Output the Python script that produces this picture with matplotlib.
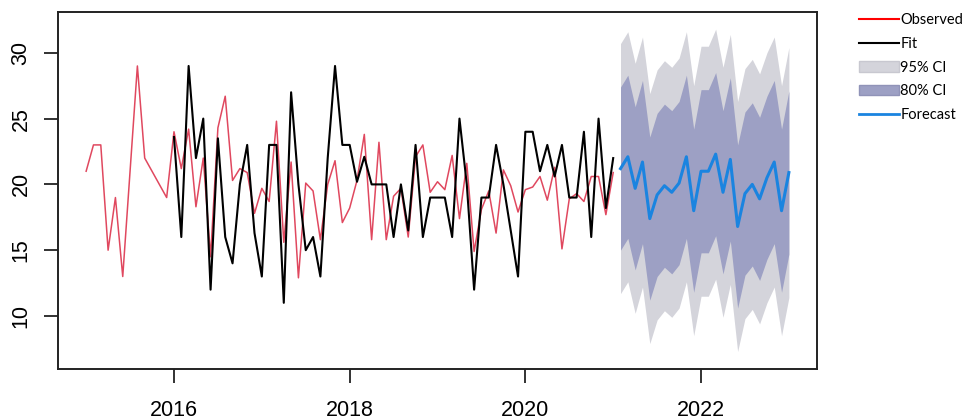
import numpy as np
import matplotlib.pyplot as plt
from matplotlib.lines import Line2D
from matplotlib.patches import Patch

# ================================
# 1) DADOS (mensais)
# ================================
obs_start = 2015.0      # jan/2015
fit_start = 2016.0      # jan/2016
fc_start = 2021 + 1/12  # fev/2021

observed = [
    21, 23, 23, 15, 19, 13, 21, 29, 22, 21, 20, 19,
    24, 21.2, 24.2, 18.3, 22, 14.5, 24.3, 26.7, 20.3, 21.2, 20.9, 17.8,
    19.7, 18.7, 24.8, 15.6, 21.7, 12.9, 20.1, 19.5, 15.8, 20.0, 21.8, 17.1,
    18.2, 20.3, 23.8, 15.8, 23.2, 15.8, 19.1, 19.7, 16.0, 22.1, 23.0, 19.4,
    20.2, 19.6, 22.2, 17.4, 21.6, 14.9, 18.1, 19.5, 16.3, 21.1, 19.9, 17.9,
    19.6, 19.8, 20.6, 18.8, 21.3, 15.1, 18.9, 19.3, 18.7, 20.6, 20.6, 17.7,
    20.9,
]

fitted = [
    23.6, 16, 29, 22, 25, 12, 23.5, 16, 14, 20, 23, 16.3,
    13, 23, 23, 11, 27, 20, 15, 16, 13, 22, 29, 23,
    23, 20.2, 22.1, 20, 20, 20, 16, 20, 16.5, 23, 16, 19,
    19, 19, 16, 25, 20, 12, 19, 19, 23, 20, 16.5, 13,
    24, 24, 21, 23, 20.6, 23, 19, 19, 24, 16, 25, 18.2,
    22,
]

forecast = [21.2, 22.1, 19.7, 21.7, 17.4, 19.2, 19.9, 19.4, 20.1, 22.1, 18.0, 21.0,
            21.0, 22.3, 19.4, 21.9, 16.8, 19.3, 20.0, 18.9, 20.5, 21.7, 18.0, 20.9]
hi80 = [27.4, 28.3, 25.9, 27.9, 23.6, 25.4, 26.1, 25.6, 26.3, 28.3, 24.2, 27.2,
        27.2, 28.5, 25.6, 28.1, 23.0, 25.5, 26.2, 25.1, 26.7, 27.9, 24.2, 27.1]
lo80 = [15.0, 15.9, 13.5, 15.5, 11.2, 13.0, 13.7, 13.2, 13.9, 15.9, 11.8, 14.8,
        14.8, 16.1, 13.2, 15.7, 10.6, 13.1, 13.8, 12.7, 14.3, 15.5, 11.8, 14.7]
hi95 = [30.7, 31.6, 29.2, 31.2, 26.9, 28.7, 29.4, 28.9, 29.6, 31.6, 27.5, 30.5,
        30.5, 31.8, 28.9, 31.4, 26.3, 28.8, 29.5, 28.4, 30.0, 31.2, 27.5, 30.4]
lo95 = [11.7, 12.6, 10.2, 12.2, 7.9, 9.7, 10.4, 9.9, 10.6, 12.6, 8.5, 11.5,
        11.5, 12.8, 9.9, 12.4, 7.3, 9.8, 10.5, 9.4, 11.0, 12.2, 8.5, 11.4]

t_obs = obs_start + np.arange(len(observed)) / 12
t_fit = fit_start + np.arange(len(fitted)) / 12
t_fc = fc_start + np.arange(len(forecast)) / 12

# ================================
# 2) PLOT
# ================================
plt.rcParams["font.family"] = "Liberation Sans"

fig = plt.figure(figsize=(9.64, 4.2), dpi=100)
ax = fig.add_axes([0.0602, 0.1214, 0.7873, 0.85])

ax.fill_between(t_fc, lo95, hi95, color="#D4D4DB", lw=0)
ax.fill_between(t_fc, lo80, hi80, color="#9DA0C4", lw=0)
ax.plot(t_obs, observed, color="#E0485F", lw=1.1)
ax.plot(t_fit, fitted, color="black", lw=1.5)
ax.plot(t_fc, forecast, color="#1A84E0", lw=2.2)

ax.set_xlim(2014.68, 2023.32)
ax.set_ylim(5.97, 33.1)
ax.set_xticks([2016, 2018, 2020, 2022])
ax.set_yticks([10, 15, 20, 25, 30])
ax.tick_params(axis="both", length=10, width=1.3, labelsize=15.5, color="#222222")
ax.tick_params(axis="x", pad=12)
ax.tick_params(axis="y", pad=9)
for lab in ax.get_yticklabels():
    lab.set_rotation(90)
    lab.set_va("center")
for s in ax.spines.values():
    s.set_linewidth(1.4)
    s.set_color("#222222")

# legenda fora do grafico, lado direito
handles = [
    Line2D([], [], color="red", lw=1.5),
    Line2D([], [], color="black", lw=1.5),
    Patch(facecolor="#D4D4DB", edgecolor="#C8C8D0"),
    Patch(facecolor="#9DA0C4", edgecolor="#9093B8"),
    Line2D([], [], color="#1A84E0", lw=2),
]
labels = ["Observed", "Fit", "95% CI", "80% CI", "Forecast"]
fig.legend(handles, labels, loc="upper left", bbox_to_anchor=(0.891, 0.968),
           frameon=False, prop={"family": "Lato", "size": 10.5},
           borderpad=0, borderaxespad=0, handlelength=2.75,
           handletextpad=0.1, labelspacing=0.66)

plt.savefig("out.png", dpi=100)
